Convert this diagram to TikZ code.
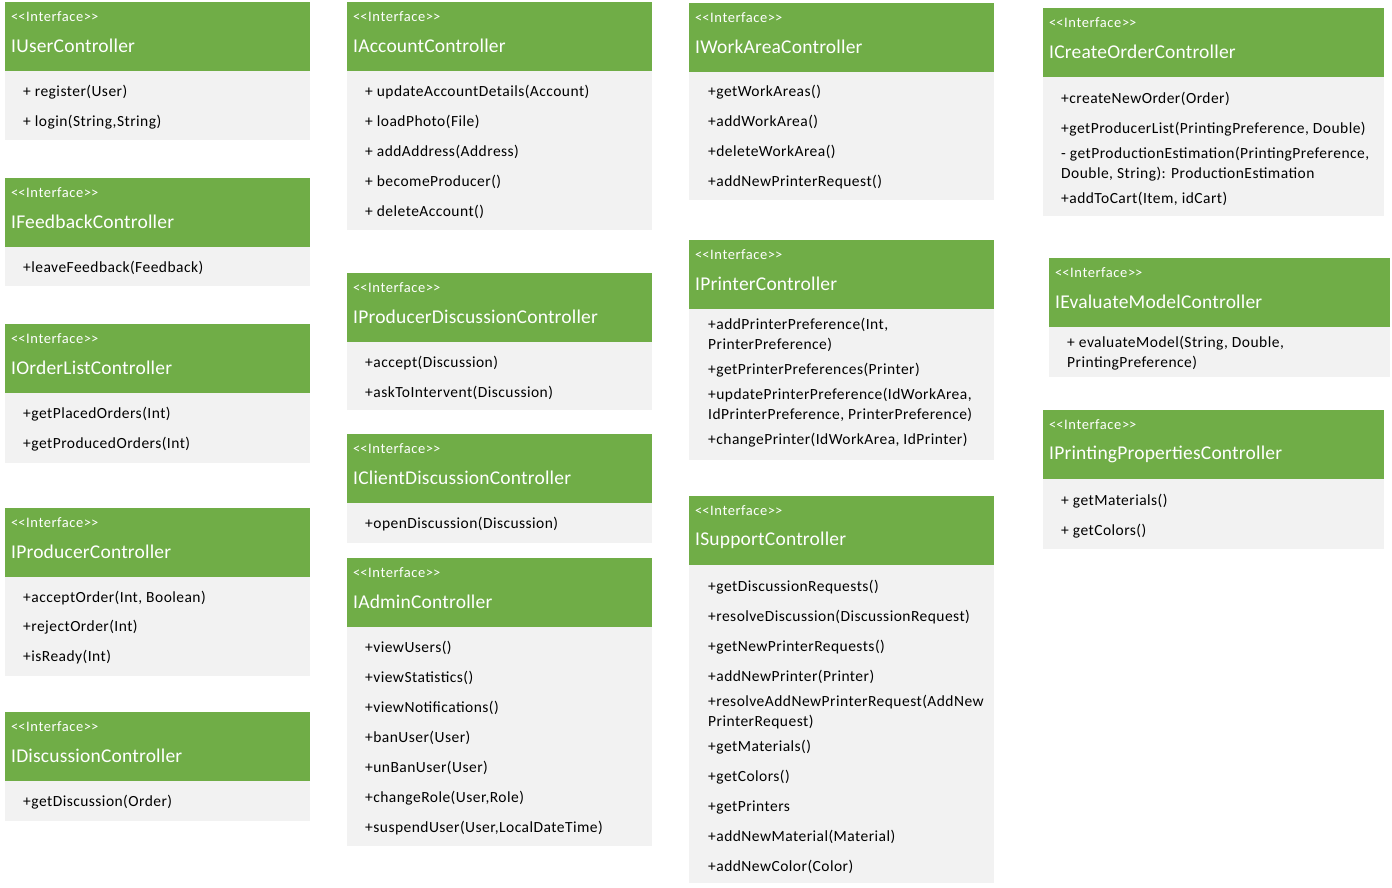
\documentclass[tikz,border=0pt]{standalone}
\usepackage{fontspec}
\setmainfont{Carlito}
\newfontfamily\mfont{Carlito}[LetterSpace=3]
\newfontfamily\tfont{Carlito}[LetterSpace=1]
\newfontfamily\sfont{Carlito}[LetterSpace=4]
\definecolor{hdrgreen}{RGB}{112,173,71}
\definecolor{bodygray}{RGB}{242,242,242}
\tikzset{
  hdr/.style={fill=hdrgreen, draw=none, minimum height=69pt, anchor=north west, inner sep=0pt, outer sep=0pt},
  bdy/.style={fill=bodygray, draw=none, anchor=north west, inner sep=0pt, outer sep=0pt},
  stereo/.style={anchor=west, inner sep=0pt, text=white, font=\sfont\fontsize{14.5}{16}\selectfont},
  ttl/.style={anchor=west, inner sep=0pt, text=white, font=\tfont\fontsize{19.5}{22}\selectfont},
  mth/.style={anchor=west, inner sep=0pt, text=black, font=\mfont\fontsize{15.5}{18}\selectfont}
}
% #1 name, #2 x, #3 y, #4 width, #5 body height, #6 title
\newcommand{\ifacebox}[6]{%
  \node[hdr, minimum width=#4pt] (#1-h) at (#2,#3) {};
  \node[bdy, minimum width=#4pt, minimum height=#5pt] (#1-b) at (#1-h.south west) {};
  \node[stereo] (#1-s) at ([xshift=6pt,yshift=-15pt]#1-h.north west) {<\kern0pt<Interface>\kern0pt>};
  \node[ttl] (#1-t) at ([xshift=6pt,yshift=-44pt]#1-h.north west) {#6};
}
\begin{document}
\begin{tikzpicture}[x=1pt,y=-1pt]
\useasboundingbox[fill=white] (0,0) rectangle (1392,887);
% ---------- column 1 ----------
\ifacebox{user}{5}{2}{305}{69}{IUserController}
\node[mth] (user-m1) at (23,92) {+ register(User)};
\node[mth] (user-m2) at (23,122) {+ login(String,String)};

\ifacebox{feed}{5}{178}{305}{39}{IFeedbackController}
\node[mth] (feed-m1) at (23,268) {+leaveFeedback(Feedback)};

\ifacebox{olist}{5}{324}{305}{70}{IOrderListController}
\node[mth] (olist-m1) at (23,414) {+getPlacedOrders(Int)};
\node[mth] (olist-m2) at (23,444) {+getProducedOrders(Int)};

\ifacebox{prod}{5}{508}{305}{99}{IProducerController}
\node[mth] (prod-m1) at (23,598) {+acceptOrder(Int, Boolean)};
\node[mth] (prod-m2) at (23,627) {+rejectOrder(Int)};
\node[mth] (prod-m3) at (23,657) {+isReady(Int)};

\ifacebox{disc}{5}{712}{305}{40}{IDiscussionController}
\node[mth] (disc-m1) at (23,802) {+getDiscussion(Order)};

% ---------- column 2 ----------
\ifacebox{acc}{347}{2}{305}{159}{IAccountController}
\node[mth] (acc-m1) at (365,92) {+ updateAccountDetails(Account)};
\node[mth] (acc-m2) at (365,122) {+ loadPhoto(File)};
\node[mth] (acc-m3) at (365,152) {+ addAddress(Address)};
\node[mth] (acc-m4) at (365,182) {+ becomeProducer()};
\node[mth] (acc-m5) at (365,212) {+ deleteAccount()};

\ifacebox{pdisc}{347}{273}{305}{68}{IProducerDiscussionController}
\node[mth] (pdisc-m1) at (365,363) {+accept(Discussion)};
\node[mth] (pdisc-m2) at (365,393) {+askToIntervent(Discussion)};

\ifacebox{cdisc}{347}{434}{305}{40}{IClientDiscussionController}
\node[mth] (cdisc-m1) at (365,524) {+openDiscussion(Discussion)};

\ifacebox{adm}{347}{558}{305}{219}{IAdminController}
\node[mth] (adm-m1) at (365,648) {+viewUsers()};
\node[mth] (adm-m2) at (365,678) {+viewStatistics()};
\node[mth] (adm-m3) at (365,708) {+viewNotifications()};
\node[mth] (adm-m4) at (365,738) {+banUser(User)};
\node[mth] (adm-m5) at (365,768) {+unBanUser(User)};
\node[mth] (adm-m6) at (365,798) {+changeRole(User,Role)};
\node[mth] (adm-m7) at (365,828) {+suspendUser(User,LocalDateTime)};

% ---------- column 3 ----------
\ifacebox{wa}{689}{3}{305}{128}{IWorkAreaController}
\node[mth] (wa-m1) at (708,92) {+getWorkAreas()};
\node[mth] (wa-m2) at (708,122) {+addWorkArea()};
\node[mth] (wa-m3) at (708,152) {+deleteWorkArea()};
\node[mth] (wa-m4) at (708,182) {+addNewPrinterRequest()};

\ifacebox{prn}{689}{240}{305}{151}{IPrinterController}
\node[mth] (prn-m1) at (708,325) {+addPrinterPreference(Int,};
\node[mth] (prn-m1b) at (708,345) {PrinterPreference)};
\node[mth] (prn-m2) at (708,370) {+getPrinterPreferences(Printer)};
\node[mth] (prn-m3) at (708,395) {+updatePrinterPreference(IdWorkArea,};
\node[mth] (prn-m3b) at (708,415) {IdPrinterPreference, PrinterPreference)};
\node[mth] (prn-m4) at (708,440) {+changePrinter(IdWorkArea, IdPrinter)};

\ifacebox{sup}{689}{496}{305}{318}{ISupportController}
\node[mth] (sup-m1) at (708,587) {+getDiscussionRequests()};
\node[mth] (sup-m2) at (708,617) {+resolveDiscussion(DiscussionRequest)};
\node[mth] (sup-m3) at (708,647) {+getNewPrinterRequests()};
\node[mth] (sup-m4) at (708,677) {+addNewPrinter(Printer)};
\node[mth] (sup-m5) at (708,702) {+resolveAddNewPrinterRequest(AddNew};
\node[mth] (sup-m5b) at (708,722) {PrinterRequest)};
\node[mth] (sup-m6) at (708,747) {+getMaterials()};
\node[mth] (sup-m7) at (708,777) {+getColors()};
\node[mth] (sup-m8) at (708,807) {+getPrinters};
\node[mth] (sup-m9) at (708,837) {+addNewMaterial(Material)};
\node[mth] (sup-m10) at (708,867) {+addNewColor(Color)};

% ---------- column 4 ----------
\ifacebox{co}{1043}{8}{341}{139}{ICreateOrderController}
\node[mth] (co-m1) at (1061,99) {+createNewOrder(Order)};
\node[mth] (co-m2) at (1061,129) {+getProducerList(PrintingPreference, Double)};
\node[mth] (co-m3) at (1061,154) {- getProductionEstimation(PrintingPreference,};
\node[mth] (co-m3b) at (1061,174) {Double, String): ProductionEstimation};
\node[mth] (co-m4) at (1061,199) {+addToCart(Item, idCart)};

\ifacebox{ev}{1049}{258}{341}{50}{IEvaluateModelController}
\node[mth] (ev-m1) at (1067,343) {+ evaluateModel(String, Double,};
\node[mth] (ev-m1b) at (1067,363) {PrintingPreference)};

\ifacebox{pp}{1043}{410}{341}{70}{IPrintingPropertiesController}
\node[mth] (pp-m1) at (1061,501) {+ getMaterials()};
\node[mth] (pp-m2) at (1061,531) {+ getColors()};
\end{tikzpicture}
\end{document}
